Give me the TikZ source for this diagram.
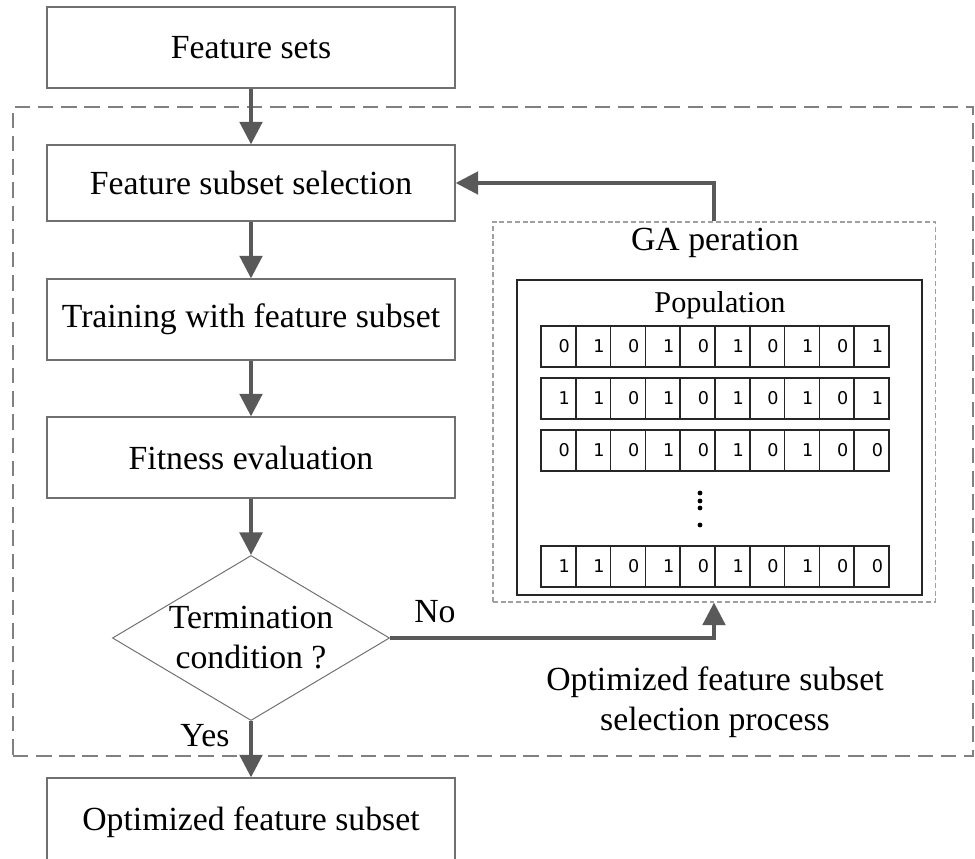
\documentclass[tikz,border=0pt]{standalone}
\usepackage{fontspec}
\setmainfont{Liberation Serif}
\newfontfamily\bitfont{DejaVu Sans}
\usetikzlibrary{shapes.geometric,arrows.meta}

\definecolor{boxgray}{HTML}{707070}
\definecolor{arrowgray}{HTML}{595959}
\definecolor{dashgray}{HTML}{808080}
\definecolor{gagray}{HTML}{A0A0A0}

\begin{document}
\begin{tikzpicture}[x=0.025cm, y=-0.025cm,
    font=\fontsize{24}{28.5}\selectfont,
    box/.style={draw=boxgray, line width=0.9pt, minimum width=10.2cm, inner sep=0pt},
    flow/.style={draw=arrowgray, line width=2.6pt, -{Triangle[length=16pt,width=16pt]}},
    cell/.style={draw=black!85, line width=1pt, minimum height=1.025cm, text width=0.57cm,
        inner xsep=0.15cm, inner ysep=0pt, align=right, font=\bitfont\fontsize{12.5}{14}\selectfont}]
    \useasboundingbox (0,0) rectangle (975,859);

    % selection process frame
    \node[draw=dashgray, line width=1pt, dash pattern=on 11pt off 5.5pt,
        minimum width=24cm, minimum height=16.225cm] (proc) at (493,431.5) {};

    % main flow
    \node[box, minimum height=2.025cm] (fs) at (251,47.5) {Feature sets};
    \node[box, minimum height=1.9cm] (fss) at (251,183) {Feature subset selection};
    \node[box, minimum height=2.025cm] (tr) at (251,319.5) {Training with feature subset};
    \node[box, minimum height=2.025cm] (fe) at (251,457.5) {Fitness evaluation};
    \node[diamond, draw=boxgray, line width=0.7pt, inner sep=0pt, minimum width=6.925cm,
        minimum height=4.125cm] (cond) at (251,638) {};
    \node[align=center] (condtext) at (cond) {Termination\\condition ?};
    \node[box, minimum height=2.2cm] (out) at (251,822) {Optimized feature subset};

    % GA operation
    \node[draw=gagray, line width=0.8pt, dash pattern=on 3.5pt off 2pt,
        minimum width=11.05cm, minimum height=9.5cm] (ga) at (714,412) {};
    \node (galabel) at (715,243) {GA peration};
    \node[draw=black!85, line width=1pt, minimum width=10.125cm, minimum height=7.875cm] (pop) at (719.5,437.5) {};
    \node[font=\fontsize{21.5}{24}\selectfont] (poplabel) at (720,305) {Population};

    \foreach \row/\yy/\bits in {1/346.5/{0,1,0,1,0,1,0,1,0,1},
                                2/398.5/{1,1,0,1,0,1,0,1,0,1},
                                3/450.5/{0,1,0,1,0,1,0,1,0,0},
                                4/566.5/{1,1,0,1,0,1,0,1,0,0}}
        \foreach \b [count=\i] in \bits
            \node[cell] (c\row-\i) at ({541+34.8*(\i-0.5)},\yy) {\b};

    \foreach \yy in {493,501,508,525}
        \fill (700,\yy) circle[radius=2.4];

    % labels
    \node (no) at (435,612) {No};
    \node (yes) at (205,736) {Yes};
    \node[align=center] (proclabel) at (715,702) {Optimized feature subset\\selection process};

    % connectors
    \draw[flow] (fs) -- (fss);
    \draw[flow] (fss) -- (tr);
    \draw[flow] (tr) -- (fe);
    \draw[flow] (fe) -- (cond);
    \draw[flow] (cond) -- (out);
    \draw[flow] (cond.east) -| (ga.south);
    \draw[flow] (ga.north) |- (fss.east);
\end{tikzpicture}
\end{document}
